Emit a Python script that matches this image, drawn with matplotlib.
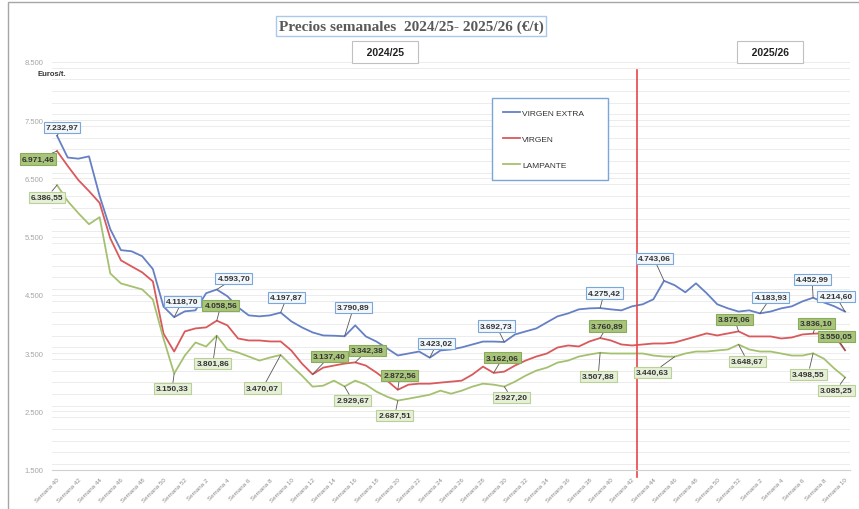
import numpy as np
import matplotlib
matplotlib.use("Agg")
import matplotlib.pyplot as plt
from matplotlib.patches import Rectangle
from matplotlib.ticker import MultipleLocator

# weekly prices (EUR/t), week 40 of 2024 onwards
virgen_extra = [7232.97, 6860, 6840, 6880, 6200, 5630, 5270, 5250, 5165, 4945,
                4300, 4118.70, 4219, 4236, 4530, 4593.70, 4478, 4288, 4150, 4133,
                4150, 4197.87, 4047, 3943, 3857, 3805, 3800, 3790.89, 3978, 3788,
                3700, 3582, 3461, 3495, 3529, 3423.02, 3547, 3565, 3600, 3650,
                3700, 3700, 3692.73, 3822, 3874, 3925, 4030, 4133, 4184, 4253,
                4270, 4275.42, 4253, 4236, 4305, 4340, 4426, 4743.06, 4667, 4546,
                4700, 4530, 4340, 4270, 4215, 4236, 4183.93, 4215, 4270, 4305,
                4390, 4452.99, 4372, 4305, 4214.60]
virgen = [6971.46, 6716, 6474, 6284, 6081, 5472, 5095, 4991, 4888, 4733,
          3836, 3529, 3874, 3926, 3943, 4058.56, 3978, 3753, 3719, 3719,
          3702, 3702, 3547, 3322, 3137.40, 3253, 3288, 3322, 3342.38, 3288,
          3167, 3029, 2872.56, 2960, 2977, 2977, 2995, 3012, 3029, 3133,
          3270, 3162.06, 3184, 3288, 3374, 3443, 3495, 3598, 3633, 3616,
          3702, 3760.89, 3719, 3650, 3633, 3650, 3667, 3667, 3684, 3736,
          3788, 3840, 3805, 3840, 3875.06, 3788, 3788, 3788, 3753, 3770,
          3822, 3836.10, 3840, 3805, 3550.05]
lampante = [6386.55, 6112, 5905, 5715, 5836, 4870, 4698, 4647, 4595, 4422,
            3750, 3150.33, 3460, 3684, 3615, 3801.86, 3564, 3512, 3443, 3374,
            3426, 3470.07, 3288, 3115, 2926, 2943, 3029, 2929.67, 3029, 2960,
            2840, 2753, 2687.51, 2719, 2753, 2788, 2857, 2805, 2857, 2926,
            2977, 2960, 2927.20, 3012, 3115, 3201, 3253, 3339, 3374, 3443,
            3478, 3507.88, 3495, 3495, 3495, 3495, 3460, 3443, 3440.63, 3495,
            3529, 3529, 3547, 3564, 3648.67, 3564, 3529, 3529, 3495, 3460,
            3460, 3498.55, 3408, 3236, 3085.25]

first_week = 40
weeks = []
for i in range(len(virgen_extra)):
    w = first_week + i
    while w > 52:
        w -= 52
    weeks.append(w)

# points carrying a data label
ve_labels = [0, 11, 15, 21, 27, 35, 42, 51, 57, 66, 71, 74]
v_labels = [0, 15, 24, 28, 32, 41, 51, 64, 71, 74]
l_labels = [0, 11, 15, 21, 27, 32, 42, 51, 58, 64, 71, 74]

# label offsets in pixels (dx, dy)
ve_off = [(5, 8), (8, 16), (17, 11), (6, 15), (9, 29), (7, 14), (-8, 16),
          (4, 15), (-10, 22), (11, 16), (-1, 18), (-9, 15)]
v_off = [(-19, -8), (4, 15), (17, 18), (12, 12), (2, 14), (9, 15), (7, 12),
         (-4, 12), (3, 10), (-9, 14)]
l_off = [(-10, -12), (-2, -15), (-4, -28), (-18, -33), (8, -14), (-3, -15),
         (7, -11), (-2, -24), (-22, -16), (9, -17), (-5, -21), (-9, -13)]

split = 54.45  # start of 2025/26 marker


def es(v):
    return f"{v:,.2f}".replace(",", "X").replace(".", ",").replace("X", ".")


plt.rcParams['font.family'] = ['Liberation Sans', 'DejaVu Sans']

W, H = 859, 510
fig = plt.figure(figsize=(W / 100, H / 100), dpi=100)
ax = fig.add_axes([51.7 / W, 1 - 470.7 / H, (850.4 - 51.7) / W, (470.7 - 63) / H])

x = np.arange(len(virgen_extra))
c_ve, c_v, c_l = '#6580c4', '#d9595c', '#a5c170'
ax.plot(x, virgen_extra, color=c_ve, lw=1.3, label='VIRGEN EXTRA')
ax.plot(x, virgen, color=c_v, lw=1.3, label='VIRGEN')
ax.plot(x, lampante, color=c_l, lw=1.3, label='LAMPANTE')

styles = [
    (virgen_extra, ve_labels, ve_off, '#f2f7fc', '#7aa6da'),
    (virgen, v_labels, v_off, '#a9c57c', '#8aab5a'),
    (lampante, l_labels, l_off, '#e6f0d8', '#b9d196'),
]
for series, idx, offs, fc, ec in styles:
    for i, (dx, dy) in zip(idx, offs):
        ax.annotate(es(series[i]), xy=(i, series[i]), xytext=(dx, dy),
                    textcoords='offset pixels', ha='center', va='center',
                    fontsize=6, fontweight='bold', color='#333333',
                    bbox=dict(boxstyle='square,pad=0.25', fc=fc, ec=ec, lw=0.8),
                    arrowprops=dict(arrowstyle='-', color='#555555', lw=0.6,
                                    shrinkA=0, shrinkB=0))

ax.plot([split, split], [8370, 1380], color='#e8474a', lw=1.2, clip_on=False)

ax.set_xlim(-0.5, len(x) - 0.5)
ax.set_ylim(1500, 8500)
ax.set_yticks(np.arange(1500, 8501, 1000))
ax.set_yticklabels([es(v)[:-3] for v in np.arange(1500, 8501, 1000)],
                   fontsize=5.5, color='#a6a6a6')
ax.yaxis.set_minor_locator(MultipleLocator(200))
ax.grid(axis='y', which='both', color='#ececec', lw=0.7)
ax.set_axisbelow(True)
ax.tick_params(axis='y', which='both', length=0, pad=6)
ax.set_xticks(x[::2])
ax.set_xticklabels([f'Semana {weeks[i]}' for i in x[::2]], rotation=45,
                   ha='right', va='top', rotation_mode='anchor',
                   fontsize=4.5, color='#8c8c8c')
ax.tick_params(axis='x', length=0, pad=5)
for s in ['top', 'right', 'left']:
    ax.spines[s].set_visible(False)
ax.spines['bottom'].set_color('#d0d0d0')
ax.spines['bottom'].set_linewidth(0.8)

leg = ax.legend(loc='upper left', bbox_to_anchor=(488 / W, 1 - 100 / H, 124 / W, 0.01),
                bbox_transform=fig.transFigure, mode='expand', fontsize=6,
                borderpad=1.3, labelspacing=2.2, handlelength=2, handletextpad=0.3,
                fancybox=False, edgecolor='#7aa6da', framealpha=1)
leg.get_frame().set_linewidth(1)
for t in leg.get_texts():
    t.set_color('#333333')

fig.text(411 / W, 1 - 27 / H, 'Precios semanales  2024/25- 2025/26 (€/t)',
         ha='center', va='center', fontfamily='Liberation Serif', fontweight='bold',
         fontsize=11, color='#595959',
         bbox=dict(boxstyle='square,pad=0.2', fc='white', ec='#a9c9ea', lw=1))
for txt, cx in [('2024/25', 385), ('2025/26', 770)]:
    fig.text(cx / W, 1 - 53 / H, '   ' + txt + '   ', ha='center', va='center',
             fontsize=7.5, fontweight='bold', color='#222222',
             bbox=dict(boxstyle='square,pad=0.55', fc='white', ec='#c0c0c0', lw=0.8))

fig.text(52 / W, 1 - 74 / H, 'Euros/t.', ha='center', va='center',
         fontsize=5.5, fontweight='bold', color='#333333')

fig.add_artist(Rectangle((8 / W, -0.1), 1.2, 1.1 - 3 / H, transform=fig.transFigure,
                         fill=False, ec='#a6a6a6', lw=1))

fig.savefig('out.png', dpi=100)
